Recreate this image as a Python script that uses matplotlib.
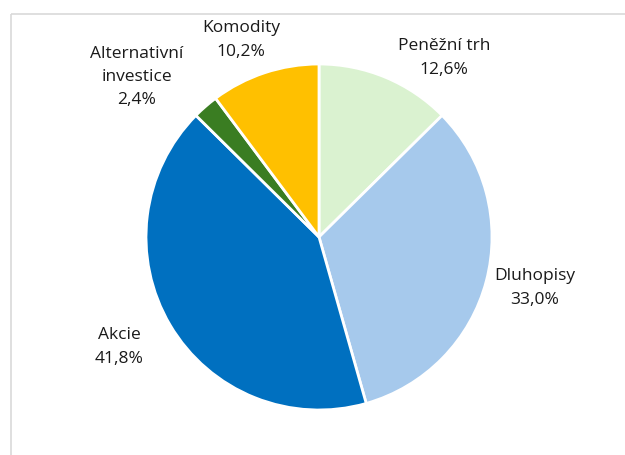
import matplotlib
matplotlib.use("Agg")
import matplotlib.pyplot as plt
from matplotlib.patches import Rectangle

categories = ["Peněžní trh", "Dluhopisy", "Akcie", "Alternativní\ninvestice", "Komodity"]
values = [12.6, 33.0, 41.8, 2.4, 10.2]
labels_pct = ["12,6%", "33,0%", "41,8%", "2,4%", "10,2%"]
colors = ["#DAF2D0", "#A6C9EC", "#0070C0", "#3A7D22", "#FFC000"]

plt.rcParams['font.family'] = ['Open Sans', 'DejaVu Sans']

fig = plt.figure(figsize=(6.25, 4.55), dpi=100)
ax = fig.add_axes([0, 0, 1, 1])

cx, cy, r = 319, 237, 173
# y axis inverted -> counterclock=True in data gives clockwise visually
ax.pie(values, colors=colors, startangle=-90, counterclock=True, center=(cx, cy), radius=r,
       wedgeprops=dict(edgecolor="white", linewidth=2), frame=True)
ax.set_xlim(0, 625)
ax.set_ylim(455, 0)
ax.set_aspect('equal')
ax.axis('off')

# frame
ax.add_patch(Rectangle((10.5, 13.5), 700, 500, fill=False, edgecolor="#D9D9D9", lw=1.2))

label_pos = [(444, 58), (535, 288), (119, 347), (137, 77), (241, 40)]
for cat, pct, (x, y) in zip(categories, labels_pct, label_pos):
    ax.text(x, y, cat + "\n" + pct, ha="center", va="center", fontsize=12.5,
            color="#1a1a1a", linespacing=1.6)

fig.savefig("out.png", dpi=100)
